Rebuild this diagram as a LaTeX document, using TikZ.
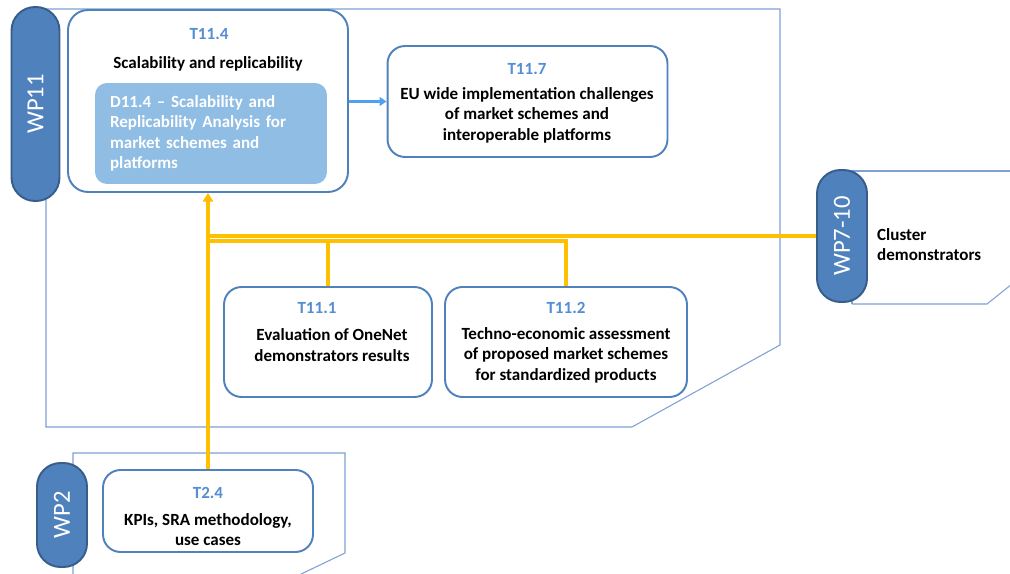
\documentclass[tikz,border=0pt]{standalone}
\usepackage{fontspec}
\setmainfont{Carlito}
\usepackage{tikz}
\usetikzlibrary{arrows.meta}
\definecolor{taskline}{HTML}{4F81BD}
\definecolor{taskid}{HTML}{558ED5}
\definecolor{wpfill}{HTML}{4F81BD}
\definecolor{wpline}{HTML}{385D8A}
\definecolor{delfill}{HTML}{8FBDE3}
\definecolor{frameline}{HTML}{7EA0D4}
\definecolor{feedline}{HTML}{FFC000}
\definecolor{linkline}{HTML}{4FA3EE}
\tikzset{
  task/.style={draw=taskline, fill=white, line width=1.1pt, rounded corners=0.35cm},
  deliv/.style={fill=delfill, rounded corners=0.24cm, text=white, align=left,
                font=\bfseries\fontsize{9.7}{11.6}\selectfont, inner xsep=0.3cm},
  wp/.style={draw=wpline, fill=wpfill, line width=1.1pt, text=white,
             font=\fontsize{14}{16}\selectfont, minimum width=#1, rounded corners=0.47cm},
  wp/.default=0.96cm,
  frame/.style={draw=frameline, line width=0.6pt},
  tid/.style={text=taskid, font=\bfseries\fontsize{9.7}{11.6}\selectfont},
  body/.style={align=center, font=\bfseries\fontsize{9.7}{11.6}\selectfont},
  feed/.style={draw=feedline, line width=2pt},
  link/.style={draw=linkline, line width=1.4pt, -{Triangle[width=5pt,length=4pt]}},
}

\begin{document}
\begin{tikzpicture}[x=0.02cm, y=-0.02cm]
  \useasboundingbox (0,0) rectangle (1010,574);
  % work package frames
  \draw[frame] (46,9) -- (780,9) -- (780,345) -- (632,427) -- (46,427) -- cycle;
  \draw[frame] (852,304) -- (852,171) -- (1012,171);
  \draw[frame] (852,304) -- (987,304) -- (1012,284);
  \draw[frame] (73,576) -- (73,453) -- (345,453) -- (345,553) -- (297,576);
  \node[wp, minimum height=3.88cm] (wp11) at (35.5,104) {\rotatebox{90}{WP11}};
  \node[wp=1cm, minimum height=2.64cm] (wp710) at (842,236) {\rotatebox{90}{WP7-10}};
  \node[wp=1cm, minimum height=2.08cm] (wp2) at (62,515) {\rotatebox{90}{WP2}};
  % tasks
  \node[task, rounded corners=0.4cm, minimum width=5.6cm, minimum height=3.64cm] (t114) at (208,101) {};
  \node[tid] (t114id) at (209,34) {T11.4};
  \node[body] (t114txt) at (208,64) {Scalability and replicability};
  \node[deliv, minimum width=4.64cm, minimum height=2.02cm, text width=4.04cm] (d114) at (211,133.5)
    {D11.4 – Scalability and\\ Replicability Analysis for\\ market schemes and\\ platforms};
  \node[task, minimum width=5.6cm, minimum height=2.22cm] (t117) at (527.5,101.5) {};
  \node[tid] (t117id) at (527,69) {T11.7};
  \node[body] (t117txt) at (527,115) {EU wide implementation challenges\\ of market schemes and\\ interoperable platforms};
  \node[task, minimum width=4.16cm, minimum height=2.2cm] (t111) at (328,342) {};
  \node[tid] (t111id) at (317,308) {T11.1};
  \node[body] (t111txt) at (332,345) {Evaluation of OneNet\\ demonstrators results};
  \node[task, minimum width=4.84cm, minimum height=2.2cm] (t112) at (566,342) {};
  \node[tid] (t112id) at (566,308) {T11.2};
  \node[body] (t112txt) at (566,355) {Techno-economic assessment\\ of proposed market schemes\\ for standardized products};
  \node[task, minimum width=4.2cm, minimum height=1.64cm] (t24) at (208,511) {};
  \node[tid] (t24id) at (208,493) {T2.4};
  \node[body] (t24txt) at (208,529.5) {KPIs, SRA methodology,\\ use cases};
  \node[body, align=left, anchor=west] (cluster) at (871,244.5) {Cluster\\ demonstrators};
  % inputs into T11.4
  \coordinate (bus) at (208,241);
  \draw[feed] (wp710.west) -- (wp710.west -| t114.south);
  \draw[feed] (t111.north) |- (bus);
  \draw[feed] (t112.north) |- (bus);
  \draw[feed, -{Triangle[width=6pt,length=5pt]}] (t24.north) -- (t114.south);
  \draw[link] (t114.east |- t117.west) -- (t117.west);
\end{tikzpicture}
\end{document}
